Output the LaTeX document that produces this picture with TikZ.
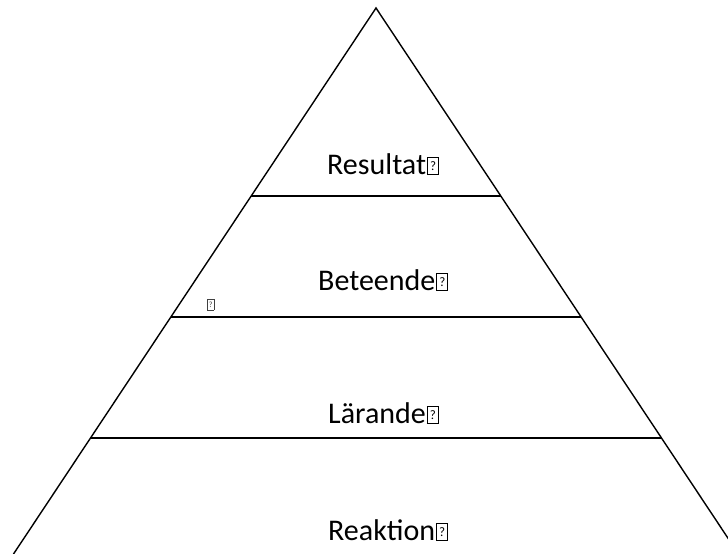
\documentclass[tikz,border=0pt]{standalone}
\usepackage{fontspec}
\setmainfont{Carlito}
\newcommand\qglyph[3]{{\setlength\fboxsep{0pt}\setlength\fboxrule{#3}\fbox{\vbox to #2{\vss\hbox to #1{\hss\fontsize{13}{13}\selectfont ?\hss}\vss}}}}
\begin{document}
\begin{tikzpicture}[x=1pt,y=-1pt,
  edge/.style={line width=1.4pt,black},
  lbl/.style={anchor=base west,inner sep=0pt,font=\fontsize{30}{30}\selectfont}]
\useasboundingbox (0,0) rectangle (728,554);
\clip (0,0) rectangle (728,554);
\coordinate (apex) at (376,8);
\coordinate (bl) at (13.5,554);
\coordinate (br) at (738.5,554);
\coordinate (l1) at (251,196);
\coordinate (r1) at (501,196);
\coordinate (l2) at (171,317);
\coordinate (r2) at (581,317);
\coordinate (l3) at (90.5,438);
\coordinate (r3) at (661.5,438);
\draw[edge,line join=miter] (bl) -- (apex) -- (br);
\draw[edge] (l1) -- (r1);
\draw[edge] (l2) -- (r2);
\draw[edge] (l3) -- (r3);
\node[lbl] (resultat) at (327,174) {Resultat\kern1pt\qglyph{10pt}{16pt}{1pt}};
\node[lbl] (beteende) at (318,290) {Beteende\kern1pt\qglyph{10pt}{16pt}{1pt}};
\node[lbl] (larande) at (328,423) {Lärande\kern1pt\qglyph{10pt}{16pt}{1pt}};
\node[lbl] (reaktion) at (328,540) {Reaktion\kern1pt\qglyph{10pt}{16pt}{1pt}};
\node[anchor=base west,inner sep=0pt,font=\fontsize{8}{8}\selectfont,text=darkgray] (stray) at (207,309) {{\setlength\fboxsep{0.5pt}\setlength\fboxrule{0.6pt}\fbox{\vbox to 9pt{\vss\hbox to 5pt{\hss ?\hss}\vss}}}};
\end{tikzpicture}
\end{document}
